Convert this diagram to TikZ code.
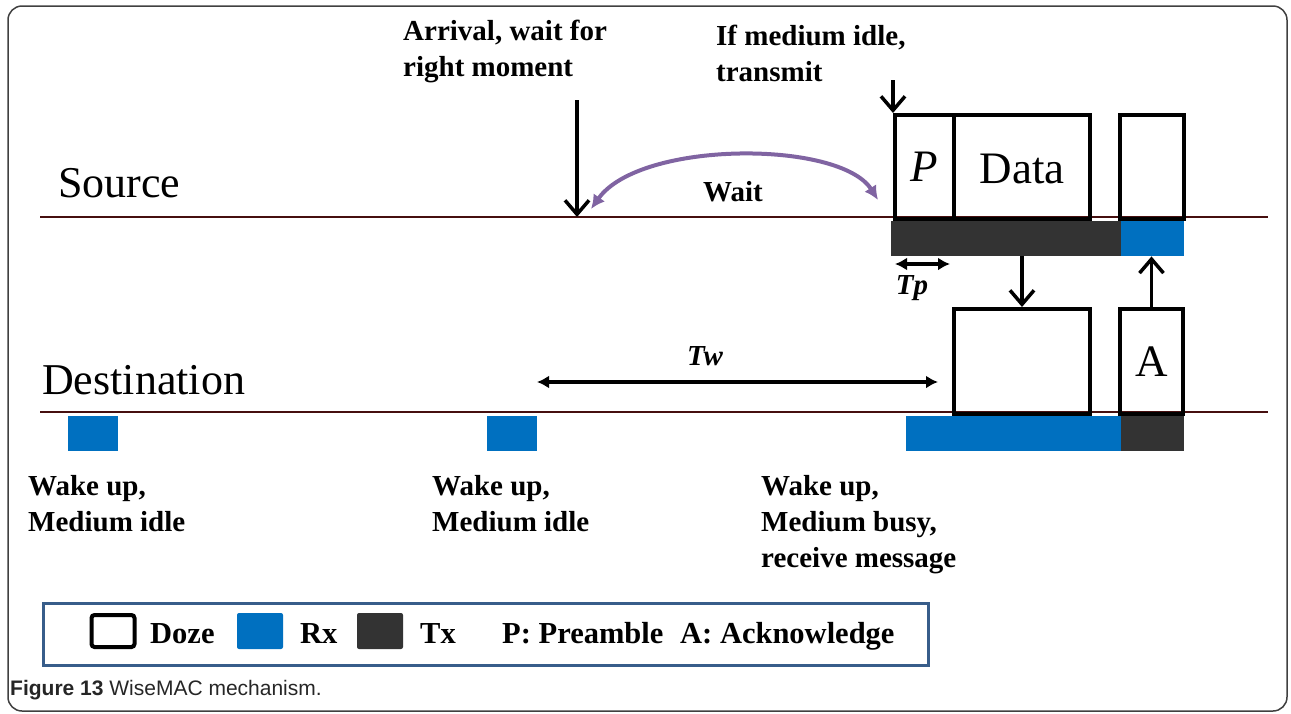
\documentclass[tikz,border=0pt]{standalone}
\usepackage{fontspec}
\setmainfont{Liberation Serif}
\newfontfamily\capfont{Liberation Sans}
\usetikzlibrary{arrows.meta}

\definecolor{rxblue}{RGB}{0,112,192}
\definecolor{txgray}{RGB}{51,51,51}
\definecolor{waitpurple}{RGB}{128,100,162}
\definecolor{legblue}{RGB}{56,93,138}
\definecolor{timeline}{RGB}{70,15,15}

\begin{document}
\begin{tikzpicture}[x=1pt,y=-1pt,
	dozebox/.style={draw,line width=4pt,inner sep=0pt,anchor=north west},
	rxbar/.style={fill=rxblue,inner sep=0pt,anchor=north west,minimum height=35pt},
	txbar/.style={fill=txgray,inner sep=0pt,anchor=north west,minimum height=35pt},
	note/.style={font=\bfseries\fontsize{29}{36}\selectfont,align=left,anchor=north west,inner sep=0pt},
	lineName/.style={font=\fontsize{44}{50}\selectfont,anchor=west,inner sep=0pt},
	boxText/.style={font=\fontsize{45}{50}\selectfont},
	leg/.style={font=\bfseries\fontsize{30.5}{34}\selectfont,anchor=base west,inner sep=0pt},
	barb/.style={-{Straight Barb[length=14pt,width=24pt,line width=3.5pt]},line width=3.5pt},
	twoway/.style={{Latex[length=12pt,width=13pt]}-{Latex[length=12pt,width=13pt]},line width=3.5pt}]
	\useasboundingbox (0,0) rectangle (1291,713);
	\draw[rounded corners=14pt,line width=1.5pt,black!75] (8,6) rectangle (1287,711);

	% time lines
	\coordinate (srcL) at (40,217);
	\coordinate (srcR) at (1268,217);
	\coordinate (dstL) at (40,412);
	\coordinate (dstR) at (1268,412);
	\draw[timeline,line width=2pt] (srcL) -- (srcR);
	\draw[timeline,line width=2pt] (dstL) -- (dstR);
	\node[lineName] (source) at (58,183) {Source};
	\node[lineName] (destination) at (42,380) {Destination};

	% source side
	\node[dozebox,minimum width=59pt,minimum height=104pt] (pre) at (893,113) {};
	\node[boxText] at (pre.center) {\textit{P}};
	\node[dozebox,minimum width=136pt,minimum height=104pt] (data) at (952,113) {};
	\node[boxText] at ([yshift=-2pt]data.center) {Data};
	\node[dozebox,minimum width=64pt,minimum height=104pt] (ackwait) at (1118,113) {};
	\node[txbar,minimum width=230pt] (srcTx) at (891,221) {};
	\node[rxbar,minimum width=63pt] (srcRx) at (1121,221) {};

	% destination side
	\node[dozebox,minimum width=136pt,minimum height=105pt] (recv) at (952,307) {};
	\node[dozebox,minimum width=63pt,minimum height=105pt] (ack) at (1118,307) {};
	\node[boxText] at (ack.center) {A};
	\node[rxbar,minimum width=50pt] (wake1) at (68,416) {};
	\node[rxbar,minimum width=50pt] (wake2) at (487,416) {};
	\node[rxbar,minimum width=215pt] (dstRx) at (906,416) {};
	\node[txbar,minimum width=63pt] (dstTx) at (1121,416) {};

	% notes
	\node[note] (arrival) at (403,20) {Arrival, wait for\\right moment};
	\node[note] (idle) at (716,25) {If medium idle,\\transmit};
	\node[note] (note1) at (28,475) {Wake up,\\Medium idle};
	\node[note] (note2) at (432,475) {Wake up,\\Medium idle};
	\node[note] (note3) at (761,475) {Wake up,\\Medium busy,\\receive message};

	% arrows
	\coordinate (arrTop) at (577,100);
	\coordinate (arrBot) at (577,217);
	\draw[barb] (arrTop) -- (arrBot);
	\coordinate (idleTop) at (893,80);
	\draw[barb] (idleTop) -- (pre.north west);
	\draw[barb] (recv.north |- srcTx.south) -- (recv.north);
	\draw[barb] (ack.north) -- (ack.north |- srcRx.south);

	\coordinate (tpL) at (895,264);
	\coordinate (tpR) at (950,264);
	\draw[twoway] (tpL) -- (tpR);
	\node[font=\bfseries\itshape\fontsize{29}{34}\selectfont] (tp) at (912,288) {Tp};

	\coordinate (twL) at (537,382);
	\coordinate (twR) at (938,382);
	\draw[twoway] (twL) -- (twR);
	\node[font=\bfseries\itshape\fontsize{29}{34}\selectfont] (tw) at (705,356) {Tw};

	\coordinate (waitR) at (878,200);
	\coordinate (waitL) at (591,209);
	\draw[waitpurple,line width=4pt,{Latex[length=14pt,width=14pt]}-{Latex[length=14pt,width=14pt]}]
		(waitL) .. controls (640,140) and (840,140) .. (waitR);
	\node[font=\bfseries\fontsize{29}{34}\selectfont] (wait) at (733,192) {Wait};

	% legend
	\node[draw=legblue,line width=3pt,minimum width=885pt,minimum height=62pt,anchor=north west] (legend) at (42,602) {};
	\node[draw,line width=4pt,rounded corners=3pt,minimum width=43pt,minimum height=32pt,inner sep=0pt] (legDoze) at (113,631) {};
	\node[leg] (dozeText) at (150,643) {Doze};
	\node[fill=rxblue,rounded corners=2pt,minimum width=46pt,minimum height=36pt,inner sep=0pt] (legRx) at (260,631) {};
	\node[leg] (rxText) at (300,643) {Rx};
	\node[fill=txgray,rounded corners=2pt,minimum width=46pt,minimum height=36pt,inner sep=0pt] (legTx) at (380,631) {};
	\node[leg] (txText) at (420,643) {Tx};
	\node[leg] (preText) at (502,643) {P: Preamble};
	\node[leg] (ackText) at (680,643) {A: Acknowledge};

	% caption
	\node[anchor=west,inner sep=0pt,font=\capfont\fontsize{21}{24}\selectfont,text=black!85] (caption) at (10,690)
		{\textbf{Figure 13} WiseMAC mechanism.};
\end{tikzpicture}
\end{document}
